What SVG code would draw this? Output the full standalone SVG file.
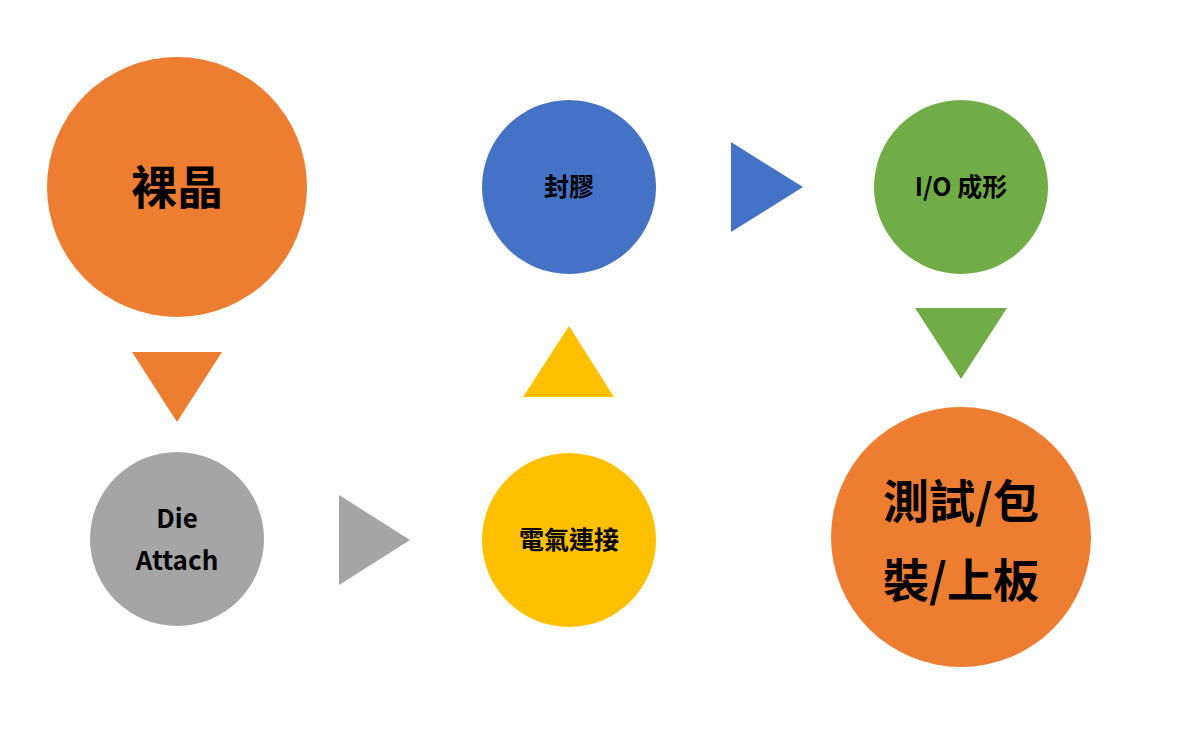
<svg xmlns="http://www.w3.org/2000/svg" width="1200" height="729" viewBox="0 0 1200 729">
<style>
.lbl{font-family:"Noto Sans CJK TC","Noto Sans",sans-serif;font-weight:bold;fill:#000;text-anchor:middle}
.big{font-size:46px}
.sm{font-size:25px}
.lat{font-size:26px}
.orange{fill:#ED7D31}
.gray{fill:#A5A5A5}
.yellow{fill:#FFC000}
.blue{fill:#4472C4}
.green{fill:#70AD47}
</style>
<rect width="1200" height="729" fill="#FFFFFF"/>
<g id="connectors">
<polygon class="orange" points="132,352 222,352 177,422"/>
<polygon class="gray" points="339,495 339,585 410,540"/>
<polygon class="yellow" points="523,397 614,397 569,326"/>
<polygon class="blue" points="731,142 731,232 803,187"/>
<polygon class="green" points="915,308 1007,308 961,379"/>
</g>
<g id="node-die">
<circle class="orange" cx="177" cy="187" r="130"/>
<text class="lbl big" x="177" y="204">裸晶</text>
</g>
<g id="node-attach">
<circle class="gray" cx="177" cy="539" r="87"/>
<text class="lbl lat" x="177" y="528">Die</text>
<text class="lbl lat" x="177" y="570">Attach</text>
</g>
<g id="node-wire">
<circle class="yellow" cx="569" cy="540" r="87"/>
<text class="lbl sm" x="569" y="549">電氣連接</text>
</g>
<g id="node-mold">
<circle class="blue" cx="569" cy="187" r="87"/>
<text class="lbl sm" x="569" y="196">封膠</text>
</g>
<g id="node-io">
<circle class="green" cx="961" cy="187" r="87"/>
<text class="lbl sm" x="961" y="196">I/O 成形</text>
</g>
<g id="node-test">
<circle class="orange" cx="961" cy="537" r="130"/>
<text class="lbl big" x="961" y="518">測試/包</text>
<text class="lbl big" x="961" y="597">裝/上板</text>
</g>
</svg>
